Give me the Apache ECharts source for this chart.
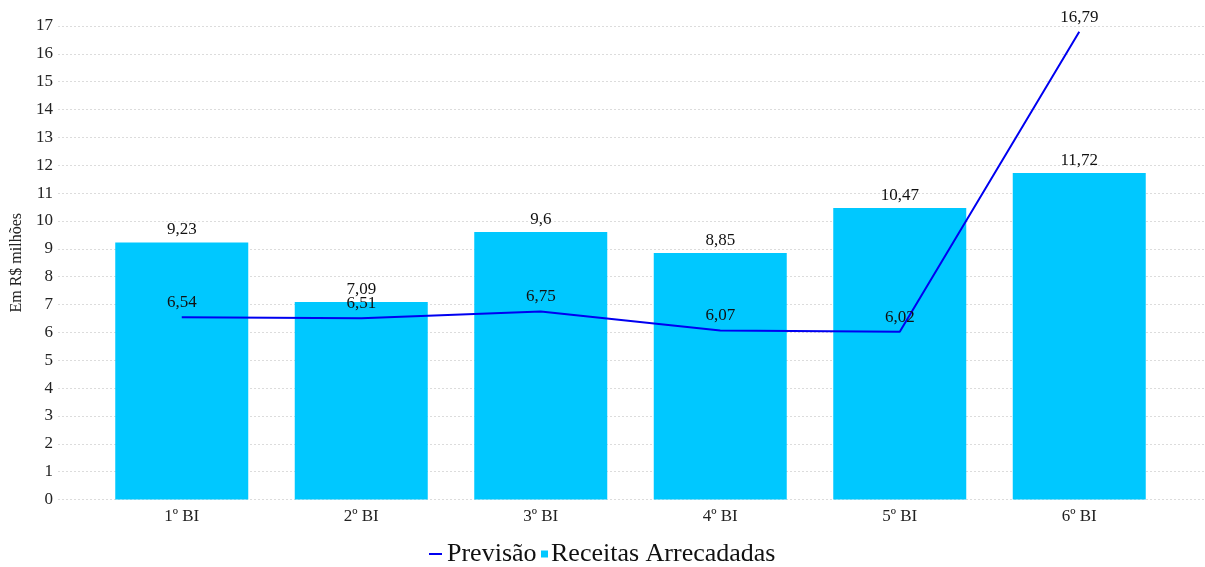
<!DOCTYPE html>
<html>
<head>
<meta charset="utf-8">
<script src="https://cdn.jsdelivr.net/npm/echarts@6/dist/echarts.min.js"></script>
<style>html,body{margin:0;padding:0;background:#fff}#c{width:1205px;height:567px}</style>
</head>
<body>
<div id="c"></div>
<script>
var categories = ['1º BI', '2º BI', '3º BI', '4º BI', '5º BI', '6º BI'];
var receitas = [9.23, 7.09, 9.6, 8.85, 10.47, 11.72];
var previsao = [6.54, 6.51, 6.75, 6.07, 6.02, 16.79];
var yMin = 0, yMax = 17, yStep = 1;

var FONT = '"Liberation Serif", "Times New Roman", serif';
function fmt(v) { return String(v).replace('.', ','); }

var chart = echarts.init(document.getElementById('c'));
chart.setOption({
  animation: false,
  textStyle: { fontFamily: FONT },
  grid: [
    { left: 58, right: 0, top: 26, bottom: 67.5 },
    { left: 92, right: 36, top: 26, bottom: 67.5 }
  ],
  legend: [
    { data: ['Previsão'], left: 424, top: 536, icon: 'rect', itemWidth: 13, itemHeight: 2,
      textStyle: { fontFamily: FONT, fontSize: 26, color: '#111' } },
    { data: ['Receitas Arrecadadas'], left: 536, top: 536, icon: 'rect', itemWidth: 7, itemHeight: 7,
      textStyle: { fontFamily: FONT, fontSize: 26, color: '#111', padding: [0, 0, 0, -2] } }
  ],
  xAxis: [
    { type: 'value', gridIndex: 0, show: false, min: 0, max: 1 },
    { type: 'category', gridIndex: 1, data: categories,
      axisLine: { show: false }, axisTick: { show: false },
      axisLabel: { fontFamily: FONT, fontSize: 17, color: '#222', margin: 9 } }
  ],
  yAxis: [
    { type: 'value', gridIndex: 0, min: yMin, max: yMax, interval: yStep,
      name: 'Em R$ milhões', nameLocation: 'middle', nameRotate: 90, nameGap: 30,
      nameTextStyle: { fontFamily: FONT, fontSize: 16, color: '#222' },
      axisLine: { show: false }, axisTick: { show: false },
      axisLabel: { fontFamily: FONT, fontSize: 17, color: '#222', margin: 5 },
      splitLine: { show: true, lineStyle: { color: '#dcdcdc', type: [2, 2], width: 1 } } },
    { type: 'value', gridIndex: 1, min: yMin, max: yMax, interval: yStep, show: false,
      splitLine: { show: false } }
  ],
  series: [
    { name: 'Receitas Arrecadadas', type: 'bar', xAxisIndex: 1, yAxisIndex: 1,
      data: receitas, barWidth: 133,
      itemStyle: { color: '#00C8FF' },
      label: { show: true, position: 'top', distance: 4, fontFamily: FONT, fontSize: 17, color: '#111',
        formatter: function (p) { return fmt(p.value); } } },
    { name: 'Previsão', type: 'line', xAxisIndex: 1, yAxisIndex: 1,
      data: previsao, symbol: 'circle', symbolSize: 0, showSymbol: true, z: 3,
      lineStyle: { color: '#0000F0', width: 2 }, itemStyle: { color: '#0000F0' },
      labelLayout: { hideOverlap: false },
      label: { show: true, position: 'top', distance: 6, fontFamily: FONT, fontSize: 17, color: '#111',
        formatter: function (p) { return fmt(p.value); } } }
  ]
});
</script>
</body>
</html>
